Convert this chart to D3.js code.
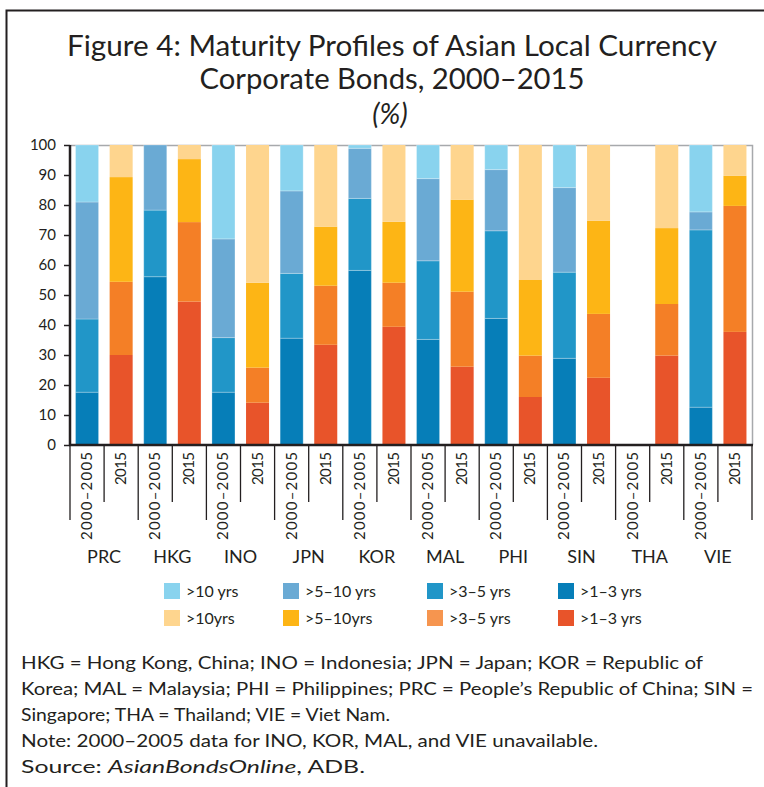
<!DOCTYPE html>
<html>
<head>
<meta charset="utf-8">
<script src="https://cdn.jsdelivr.net/npm/d3@7"></script>
<style>
  body { margin: 0; background: #fff; }
  text { font-family: Lato, "Open Sans", sans-serif; fill: #231f20; }
</style>
</head>
<body>
<div id="chart"></div>
<script>
const economies = ["PRC", "HKG", "INO", "JPN", "KOR", "MAL", "PHI", "SIN", "THA", "VIE"];
const periods = ["2000–2005", "2015"];

// bar order: PRC 2000-2005, PRC 2015, HKG 2000-2005, ...
const oneToThree   = [17.6, 30, 56.1, 47.8, 17.6, 14.1, 35.6, 33.4, 58.2, 39.4, 35.2, 26.1, 42.2, 16, 28.9, 22.4, null, 29.8, 12.6, 37.7];
const threeToFive  = [24.4, 24.4, 22.2, 26.5, 18.2, 11.7, 21.6, 19.7, 24, 14.7, 26.2, 25, 29.2, 13.8, 28.7, 21.3, null, 17.2, 59.1, 42];
const fiveToTen    = [39, 34.9, 21.7, 21, 32.9, 28.3, 27.5, 19.7, 16.7, 20.3, 27.4, 30.7, 20.4, 25.2, 28.2, 31, null, 25.3, 6, 10];
const overTen      = [19, 10.7, 0, 4.7, 31.3, 45.9, 15.3, 27.2, 1.1, 25.6, 11.2, 18.2, 8.2, 45, 14.2, 25.3, null, 27.7, 22.3, 10.3];

const yTicks = [0, 10, 20, 30, 40, 50, 60, 70, 80, 90, 100];

const keys = ["b13", "b35", "b510", "b10"];
const blueColors = { b10: "#89d3ee", b510: "#6aaad4", b35: "#2196c8", b13: "#067eb8" };
const orangeColors = { b10: "#fed58e", b510: "#fdb515", b35: "#f47f26", b13: "#e8542a" };

const legendRows = [
    [[">10 yrs", "#89d3ee"], [">5–10 yrs", "#6aaad4"], [">3–5 yrs", "#2196c8"], [">1–3 yrs", "#067eb8"]],
    [[">10yrs", "#fed58e"], [">5–10yrs", "#fdb515"], [">3–5 yrs", "#f6954f"], [">1–3 yrs", "#e8542a"]]
];

const rows = [];
economies.forEach((e, i) => {
    periods.forEach((p, j) => {
        const k = i * 2 + j;
        rows.push({ id: e + "|" + p, economy: e, period: j,
            b13: oneToThree[k] || 0, b35: threeToFive[k] || 0,
            b510: fiveToTen[k] || 0, b10: overTen[k] || 0 });
    });
});

const width = 764, height = 787;
const plot = { left: 70, right: 752, top: 145, bottom: 445 };

const svg = d3.select("#chart").append("svg")
    .attr("width", width)
    .attr("height", height);

// frame
svg.append("path")
    .attr("d", `M6.5,${height} V10.5 H${width}`)
    .attr("fill", "none")
    .attr("stroke", "#231f20")
    .attr("stroke-width", 2);

// title
const titleLines = [
    { t: "Figure 4: Maturity Profiles of Asian Local Currency", y: 56, w: 650 },
    { t: "Corporate Bonds, 2000–2015", y: 89, w: 385 }
];
titleLines.forEach(l => {
    svg.append("text")
        .attr("x", width / 2 + 10).attr("y", l.y)
        .attr("text-anchor", "middle")
        .attr("font-size", 28)
        .attr("textLength", l.w)
        .attr("lengthAdjust", "spacingAndGlyphs")
        .text(l.t);
});
svg.append("text")
    .attr("x", 390).attr("y", 124)
    .attr("text-anchor", "middle")
    .attr("font-size", 28)
    .attr("font-style", "italic")
    .text("(%)");

const x = d3.scaleBand()
    .domain(rows.map(d => d.id))
    .range([plot.left, plot.right])
    .paddingInner(0.325)
    .paddingOuter(0.1625);

const y = d3.scaleLinear().domain([0, 100]).range([plot.bottom, plot.top]);

const stack = d3.stack().keys(keys);
const series = stack(rows);

// plot border (gray, top and right)
svg.append("path")
    .attr("d", `M${plot.left},${plot.top + 0.5} H${plot.right + 0.5} V${plot.bottom}`)
    .attr("fill", "none")
    .attr("stroke", "#a7a9ac")
    .attr("stroke-width", 1.5);

// bars
const barG = svg.append("g");
series.forEach(s => {
    barG.selectAll(null)
        .data(s)
        .join("rect")
        .attr("x", d => x(d.data.id))
        .attr("width", x.bandwidth())
        .attr("y", d => y(d[1]))
        .attr("height", d => y(d[0]) - y(d[1]))
        .attr("fill", d => d.data.period === 0 ? blueColors[s.key] : orangeColors[s.key])
        .attr("stroke", d => d.data.period === 0 ? "rgba(255,255,255,0.25)" : "none")
        .attr("stroke-width", 1);
});

// y axis
const yAxis = svg.append("g")
    .attr("transform", `translate(${plot.left},0)`)
    .call(d3.axisLeft(y).tickValues(yTicks).tickSize(6).tickPadding(8));
yAxis.select(".domain").remove();
yAxis.selectAll(".tick line").attr("stroke", "#231f20").attr("stroke-width", 1.5);
yAxis.selectAll(".tick text")
    .attr("font-size", 15)
    .attr("fill", "#231f20")
    .style("font-family", "Lato, sans-serif");

svg.append("line")
    .attr("x1", plot.left).attr("x2", plot.left)
    .attr("y1", plot.top).attr("y2", plot.bottom)
    .attr("stroke", "#231f20").attr("stroke-width", 2.5);
svg.append("line")
    .attr("x1", plot.left - 1).attr("x2", plot.right + 1)
    .attr("y1", plot.bottom).attr("y2", plot.bottom)
    .attr("stroke", "#231f20").attr("stroke-width", 2.5);

// category separators below the axis
const step = x.step();
d3.range(rows.length + 1).forEach(k => {
    svg.append("line")
        .attr("x1", plot.left + k * step).attr("x2", plot.left + k * step)
        .attr("y1", plot.bottom).attr("y2", k % 2 === 0 ? 520 : 502)
        .attr("stroke", "#231f20").attr("stroke-width", 1.3);
});

// period labels
svg.selectAll(".plabel")
    .data(rows)
    .join("text")
    .attr("class", "plabel")
    .attr("transform", d => `translate(${x(d.id) + x.bandwidth() / 2 + 5},452) rotate(-90)`)
    .attr("text-anchor", "end")
    .attr("font-size", 15)
    .attr("textLength", d => d.period === 0 ? 88 : 33)
    .attr("lengthAdjust", "spacing")
    .text(d => periods[d.period]);

// economy labels
svg.selectAll(".elabel")
    .data(economies)
    .join("text")
    .attr("class", "elabel")
    .attr("x", (d, i) => plot.left + (i * 2 + 1) * step)
    .attr("y", 563)
    .attr("text-anchor", "middle")
    .attr("font-size", 18)
    .text(d => d);

// legend
const legendX = [164, 283, 427, 558];
legendRows.forEach((row, r) => {
    row.forEach((item, c) => {
        const g = svg.append("g").attr("transform", `translate(${legendX[c]},${583 + r * 27})`);
        g.append("rect").attr("width", 16).attr("height", 16).attr("fill", item[1]);
        g.append("text").attr("x", 22).attr("y", 14)
            .attr("font-size", 16)
            .text(item[0]);
    });
});

// notes
const notes = [
    { t: "HKG = Hong Kong, China; INO = Indonesia; JPN = Japan; KOR = Republic of", w: 682 },
    { t: "Korea; MAL = Malaysia; PHI = Philippines; PRC = People’s Republic of China; SIN =", w: 732 },
    { t: "Singapore; THA = Thailand; VIE = Viet Nam.", w: 369 },
    { t: "Note: 2000–2005 data for INO, KOR, MAL, and VIE unavailable.", w: 577 }
];
notes.forEach((n, i) => {
    svg.append("text")
        .attr("x", 21).attr("y", 669 + i * 26)
        .attr("font-size", 18)
        .attr("textLength", n.w)
        .attr("lengthAdjust", "spacingAndGlyphs")
        .text(n.t);
});
const src = svg.append("text")
    .attr("x", 21).attr("y", 773)
    .attr("font-size", 18)
    .attr("textLength", 344)
    .attr("lengthAdjust", "spacingAndGlyphs");
src.append("tspan").text("Source: ");
src.append("tspan").attr("font-style", "italic").text("AsianBondsOnline");
src.append("tspan").text(", ADB.");
</script>
</body>
</html>
